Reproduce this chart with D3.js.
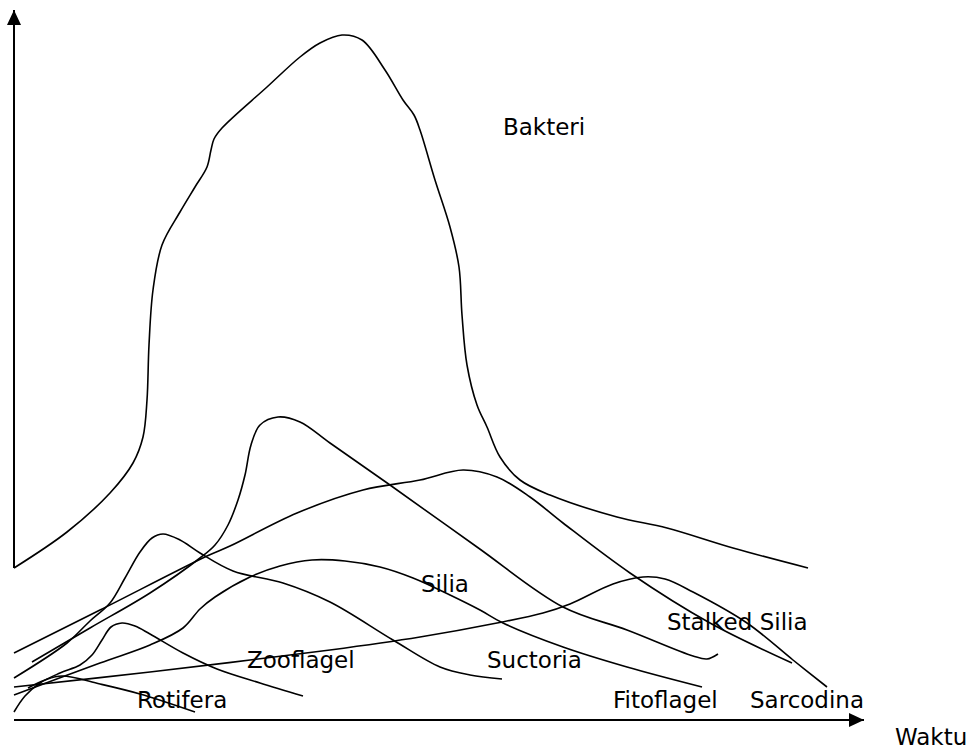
<!DOCTYPE html>
<html>
<head>
<meta charset="utf-8">
<script src="https://cdn.jsdelivr.net/npm/d3@7"></script>
<style>
  body { margin: 0; background: #fff; }
  text { font-family: "DejaVu Sans", sans-serif; font-size: 23px; fill: #000; }
</style>
</head>
<body>
<div id="main"></div>
<script>
// [waktu, jumlah] pairs (arbitrary units)
const bakteri = [[0,15.2],[5.3,18.8],[9.6,22.7],[11.9,25.7],[12.9,28.3],[13.3,32],[13.5,37.5],[13.9,43],[14.8,47.5],[16.6,50.8],[18.1,53.3],[19.3,55.3],[19.7,57],[20,58.1],[20.8,59.2],[25.3,63.3],[28.6,66.3],[30.6,67.7],[32.8,68.5],[34.8,68],[37.1,65],[38.9,62],[40,60.5],[40.6,59],[42.1,54],[43.6,49.3],[44.5,45.3],[44.8,40.5],[45.3,35.5],[46.3,31.5],[47.3,29.3],[48.6,26.3],[50.6,24],[53.6,22.5],[60.3,20.3],[65.3,19.2],[71.9,17.2],[79.4,15.2]];
const silia = [[1.8,5.8],[7.6,9.2],[13.6,12.7],[18.6,16.2],[20.1,17.5],[21.4,19.5],[22.4,22],[23.1,24.5],[23.7,27.5],[24.6,29.5],[26.4,30.3],[28.6,29.8],[31.6,27.7],[37.6,23.5],[46.3,17.3],[54.9,11.3],[61.3,9],[67.9,6.4],[69.3,6.1],[70.4,6.6]];
const stalkedSilia = [[0,6.7],[8.6,11],[19.3,16.4],[21.6,17.4],[28.3,20.7],[34.9,23],[40.6,24],[44.9,25],[48.3,24.3],[51.6,22.3],[54.9,19.7],[61.6,14.7],[69.6,9.7],[77.8,5.7]];
const fitoflagel = [[0,2.5],[8.6,5.7],[13.6,7.5],[16.9,9.2],[18.6,11.1],[20.1,12.3],[23.6,14.3],[26.6,15.4],[29.8,16],[33.1,15.9],[36.6,15.3],[39.9,14.2],[43.6,12.5],[46.6,11],[48.9,9.7],[54.9,7.3],[61.3,5.3],[68.8,3.3]];
const suctoria = [[0,4.2],[5.3,7.7],[7.6,9.9],[9.6,11.7],[11.1,14.2],[12.6,16.8],[13.8,18.2],[14.9,18.6],[16.6,18],[18.6,16.7],[21.9,14.9],[26.9,13.7],[31.6,11.8],[37.9,8],[42.6,5.3],[45.6,4.5],[48.8,4.1]];
const sarcodina = [[0,3.3],[13.6,4.8],[31.6,7],[40.6,8.3],[48.3,9.7],[52.9,10.7],[55.6,11.6],[59.9,13.6],[62.9,14.3],[65.1,14.1],[67.9,12.8],[73.3,9.7],[77.9,6],[81.3,3.3]];
const zooflagel = [[0,0.8],[1.1,2.4],[2.6,3.7],[4.6,4.7],[6.6,5.5],[7.8,6.5],[8.8,8],[9.7,9.3],[10.8,9.7],[12.1,9.4],[13.6,8.6],[16.9,6.7],[20.3,5.1],[24.6,3.7],[28.9,2.4]];
const rotifera = [[1.4,3.2],[3.1,4],[4.8,4.4],[8.6,3.6],[12.6,2.6],[18.1,0.8]];

const seriesList = [bakteri, silia, stalkedSilia, fitoflagel, suctoria, sarcodina, zooflagel, rotifera];

// label text with [waktu, jumlah] anchor
const labels = [
  ["Bakteri", 48.9, 58.5],
  ["Silia", 40.7, 12.8],
  ["Stalked Silia", 65.3, 9.0],
  ["Suctoria", 47.3, 5.2],
  ["Zooflagel", 23.3, 5.2],
  ["Rotifera", 12.3, 1.2],
  ["Fitoflagel", 59.9, 1.2],
  ["Sarcodina", 73.6, 1.2]
];
const xTitle = "Waktu";

const width = 976, height = 752;

const svg = d3.select("#main")
  .append("svg")
  .attr("width", width)
  .attr("height", height);

const x = d3.scaleLinear().domain([0, 85]).range([14, 864]);
const y = d3.scaleLinear().domain([0, 71]).range([720, 10]);

svg.append("defs").append("marker")
  .attr("id", "arrow")
  .attr("viewBox", "0 -8 16 16")
  .attr("refX", 15)
  .attr("refY", 0)
  .attr("markerUnits", "userSpaceOnUse")
  .attr("markerWidth", 16)
  .attr("markerHeight", 16)
  .attr("orient", "auto")
  .append("path")
  .attr("d", "M0,-7L15,0L0,7Z")
  .attr("fill", "#000");

// axes (no ticks in the sketch)
svg.append("line")
  .attr("x1", x(0)).attr("y1", y(0))
  .attr("x2", x(85)).attr("y2", y(0))
  .attr("stroke", "#000").attr("stroke-width", 2)
  .attr("marker-end", "url(#arrow)");

svg.append("line")
  .attr("x1", x(0)).attr("y1", y(bakteri[0][1]))
  .attr("x2", x(0)).attr("y2", y(71))
  .attr("stroke", "#000").attr("stroke-width", 2)
  .attr("marker-end", "url(#arrow)");

const line = d3.line()
  .x(d => x(d[0]))
  .y(d => y(d[1]))
  .curve(d3.curveCatmullRom.alpha(0.5));

svg.selectAll("path.curve")
  .data(seriesList)
  .join("path")
  .attr("class", "curve")
  .attr("fill", "none")
  .attr("stroke", "#000")
  .attr("stroke-width", 1.6)
  .attr("d", line);

svg.selectAll("text.label")
  .data(labels)
  .join("text")
  .attr("class", "label")
  .attr("x", d => x(d[1]))
  .attr("y", d => y(d[2]))
  .text(d => d[0]);

svg.append("text")
  .attr("x", x(88.1))
  .attr("y", y(-2.5))
  .text(xTitle);
</script>
</body>
</html>
